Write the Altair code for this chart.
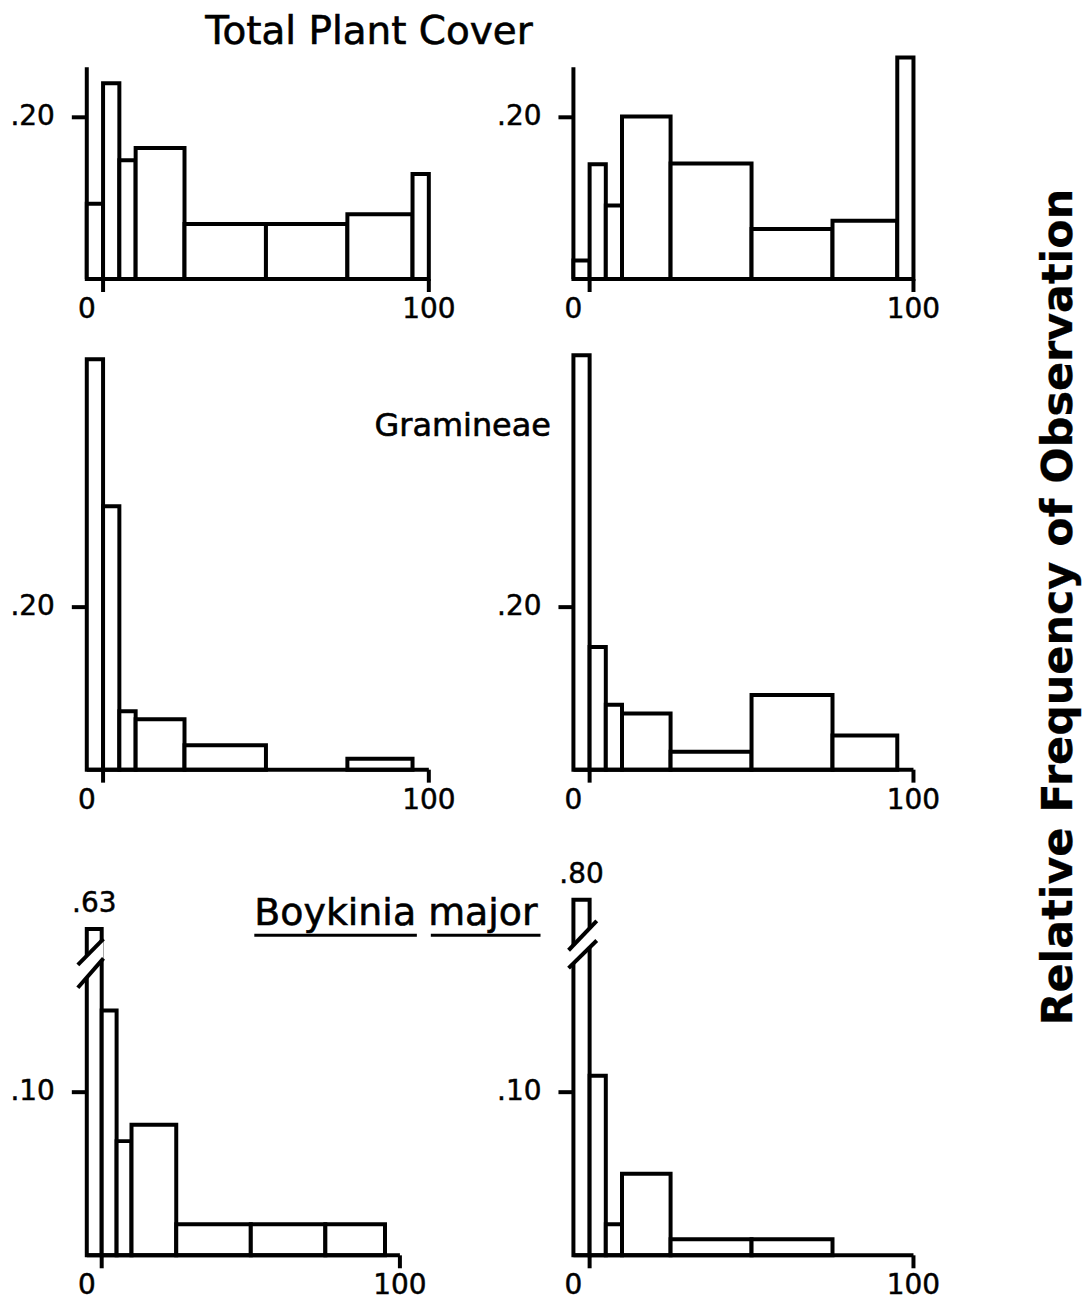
import altair as alt
import pandas as pd

# ---------------- data ----------------
# cover classes (percent); the first class is the "0" class drawn left of the 0 tick
bin_start = [-5, 0, 5, 10, 25, 50, 75, 95]
bin_end = [0, 5, 10, 25, 50, 75, 95, 100]

# relative frequency of observation per cover class
total_left = [0.093, 0.242, 0.147, 0.162, 0.068, 0.068, 0.080, 0.130]
total_right = [0.023, 0.142, 0.091, 0.201, 0.143, 0.062, 0.072, 0.274]
gram_left = [0.505, 0.324, 0.072, 0.062, 0.030, 0.0, 0.0135, 0.0]
gram_right = [0.510, 0.151, 0.080, 0.069, 0.022, 0.092, 0.042, 0.0]
boyk_left = [0.63, 0.150, 0.070, 0.080, 0.019, 0.019, 0.019, 0.0]
boyk_right = [0.80, 0.110, 0.019, 0.050, 0.0098, 0.0098, 0.0, 0.0]

# broken first bar in the Boykinia panels
boyk_left_cap = 0.200
boyk_right_cap = 0.218
boyk_left_label = ".63"
boyk_right_label = ".80"
break_left = {"x": [-8.0, 0.6], "lo": [0.164, 0.182], "hi": [0.178, 0.194]}
break_right = {"x": [-6.5, 2.2], "lo": [0.176, 0.193], "hi": [0.187, 0.205]}

x_axis_range = [-5, 100]
x_tick_values = [0, 100]
x_label_pos = [-5, 100]
x_label_text = ["0", "100"]

titles = ["Total Plant Cover", "Gramineae", "Boykinia major"]
side_title = "Relative Frequency of Observation"

# ---------------- style ----------------
FONT = "DejaVu Sans"
INK = "black"
SW = 4


def text_layer(txt, x, y, size=36, angle=0, weight="normal", baseline="alphabetic", sw=0.6):
    return alt.Chart(pd.DataFrame({"t": [txt]})).mark_text(
        font=FONT, fontSize=size, color=INK, angle=angle, fontWeight=weight,
        baseline=baseline, align="center", stroke=INK, strokeWidth=sw,
    ).encode(x=alt.value(x), y=alt.value(y), text="t:N")


def underline_layer(starts, ends, y):
    df = pd.DataFrame({"a": starts, "b": ends, "y": [y] * len(starts)})
    return alt.Chart(df).mark_rule(color=INK, strokeWidth=3).encode(
        x=alt.X("a:Q", scale=None), x2="b:Q", y=alt.Y("y:Q", scale=None)
    )


def panel(values, width, height, ppu, ytick, axis_top=None, cap=None,
          cap_label=None, brk=None, extras=()):
    ymax = height / ppu
    xs = alt.Scale(domain=x_axis_range, nice=False, zero=False)
    ys = alt.Scale(domain=[0, ymax], nice=False, zero=False)

    def X(f):
        return alt.X(f, scale=xs, axis=None, title=None)

    def Y(f):
        return alt.Y(f, scale=ys, axis=None, title=None)

    shown = [min(v, cap) if cap is not None else v for v in values]
    df = pd.DataFrame({"x0": bin_start, "x1": bin_end, "v": shown})
    df = df[df["v"] > 0]

    layers = []
    # y axis line (only where it rises above the bars)
    if axis_top is not None:
        ax = pd.DataFrame({"x": [x_axis_range[0]], "y0": [0], "y1": [axis_top]})
        layers.append(alt.Chart(ax).mark_rule(color=INK, strokeWidth=SW).encode(
            x=X("x:Q"), y=Y("y0:Q"), y2="y1:Q"))

    # histogram bars
    layers.append(alt.Chart(df).mark_rect(fill="white", stroke=INK, strokeWidth=SW).encode(
        x=X("x0:Q"), x2="x1:Q", y=Y("v:Q"), y2=alt.datum(0)))

    # x axis baseline
    base = pd.DataFrame({"a": [x_axis_range[0]], "b": [x_axis_range[1]], "y": [0]})
    layers.append(alt.Chart(base).mark_rule(color=INK, strokeWidth=SW).encode(
        x=X("a:Q"), x2="b:Q", y=Y("y:Q")))

    # x ticks (pointing down)
    xt = pd.DataFrame({"x": x_tick_values, "y": [0] * len(x_tick_values)})
    layers.append(alt.Chart(xt).mark_rule(color=INK, strokeWidth=SW, y2Offset=13).encode(
        x=X("x:Q"), y=Y("y:Q"), y2="y:Q"))

    # x tick labels
    lab = pd.DataFrame({"x": x_label_pos, "t": x_label_text, "y": [0] * len(x_label_pos)})
    layers.append(alt.Chart(lab).mark_text(
        font=FONT, fontSize=28, color=INK, dy=31, baseline="middle",
        stroke=INK, strokeWidth=0.5,
    ).encode(x=X("x:Q"), y=Y("y:Q"), text="t:N"))

    # y tick (pointing left) and its label
    yt = pd.DataFrame({"x": [x_axis_range[0]], "y": [ytick],
                       "t": ["." + f"{ytick:.2f}".split(".")[1]]})
    layers.append(alt.Chart(yt).mark_rule(color=INK, strokeWidth=SW, x2Offset=-15).encode(
        x=X("x:Q"), x2="x:Q", y=Y("y:Q")))
    layers.append(alt.Chart(yt).mark_text(
        font=FONT, fontSize=28, color=INK, dx=-32, align="right", baseline="middle",
        stroke=INK, strokeWidth=0.5,
    ).encode(x=X("x:Q"), y=Y("y:Q"), text="t:N"))

    # axis break on the first bar
    if brk is not None:
        mask = pd.DataFrame({"x": brk["x"], "lo": brk["lo"], "hi": brk["hi"]})
        layers.append(alt.Chart(mask).mark_area(fill="white", opacity=1).encode(
            x=X("x:Q"), y=Y("lo:Q"), y2="hi:Q"))
        lines = pd.DataFrame({
            "xa": [brk["x"][0]] * 2, "xb": [brk["x"][1]] * 2,
            "ya": [brk["lo"][0], brk["hi"][0]], "yb": [brk["lo"][1], brk["hi"][1]],
        })
        layers.append(alt.Chart(lines).mark_rule(color=INK, strokeWidth=SW).encode(
            x=X("xa:Q"), x2="xb:Q", y=Y("ya:Q"), y2="yb:Q"))

    if cap_label is not None:
        cl = pd.DataFrame({"x": [(bin_start[0] + bin_end[0]) / 2], "y": [cap], "t": [cap_label]})
        layers.append(alt.Chart(cl).mark_text(
            font=FONT, fontSize=28, color=INK, dy=-25, baseline="middle",
            stroke=INK, strokeWidth=0.5,
        ).encode(x=X("x:Q"), y=Y("y:Q"), text="t:N"))

    layers.extend(extras)
    return alt.layer(*layers).properties(width=width, height=height)


p11 = panel(total_left, 343, 230, 811, 0.2, axis_top=0.262,
            extras=[text_layer(titles[0], 283, -6, size=39)])
p12 = panel(total_right, 341, 230, 811, 0.2, axis_top=0.262)
p21 = panel(gram_left, 343, 432, 815, 0.2,
            extras=[text_layer(titles[1], 377, 97, size=32)])
p22 = panel(gram_right, 341, 432, 815, 0.2,
            extras=[text_layer(side_title, 487, 269, size=43, angle=270,
                               weight="bold", baseline="middle", sw=0.3)])
p31 = panel(boyk_left, 314, 427, 1636, 0.1, cap=boyk_left_cap,
            cap_label=boyk_left_label, brk=break_left,
            extras=[text_layer(titles[2], 310, 96, size=38),
                    underline_layer([168, 345], [331, 455], 106)])
p32 = panel(boyk_right, 341, 427, 1636, 0.1, cap=boyk_right_cap,
            cap_label=boyk_right_label, brk=break_right)

chart = alt.concat(
    p11, p12, p21, p22, p31, p32,
    columns=2, spacing={"row": 60, "column": 145}, bounds="flush",
).properties(
    padding={"left": 2, "top": 3, "right": 0, "bottom": 2}
).configure_view(stroke=None)

chart.save("out.html", embed_options={"renderer": "svg", "actions": False})
